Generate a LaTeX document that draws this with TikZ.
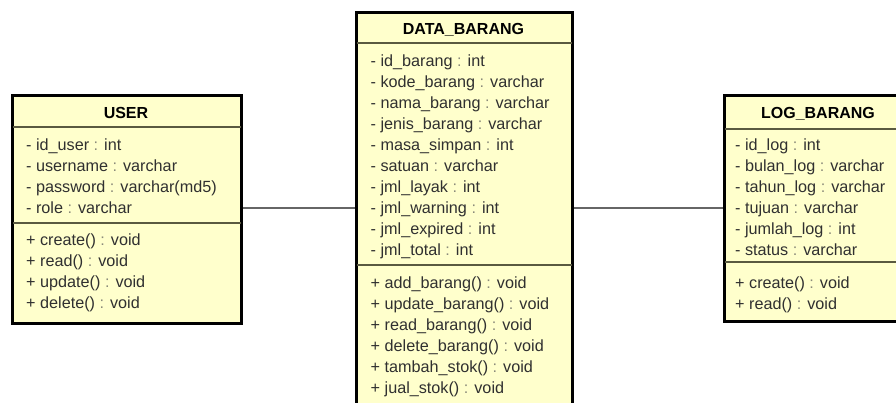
\documentclass[tikz,border=0pt]{standalone}
\usepackage{fontspec}
\setmainfont{Liberation Sans}
\definecolor{boxfill}{HTML}{FFFFCC}
\definecolor{sepcol}{HTML}{5A5A40}
\definecolor{txtcol}{HTML}{303030}
\definecolor{colgray}{HTML}{8A8A7A}
\definecolor{linkcol}{HTML}{666666}
\newcommand\cl{\textcolor{colgray}{:}}
\tikzset{
  classbox/.style={draw=black, line width=2pt, fill=boxfill, rectangle, inner sep=0pt, anchor=north west},
  sepline/.style={draw=sepcol, line width=1.2pt},
  rowtext/.style={anchor=base west, inner sep=0pt, text=txtcol, font=\fontsize{16.2}{19}\selectfont},
  headtext/.style={anchor=base, inner sep=0pt, text=black, font=\fontsize{16}{19}\selectfont\bfseries},
  link/.style={draw=linkcol, line width=1.1pt}
}
\begin{document}
\begin{tikzpicture}[x=1pt,y=-1pt]
\useasboundingbox (0,0) rectangle (896,403);
\fill[white] (0,0) rectangle (896,403);
\clip (0,0) rectangle (896,403);
\coordinate (cy) at (0,208);
% boxes
\node[classbox, minimum width=228pt, minimum height=227pt] (user) at (12,95) {};
\node[classbox, minimum width=215pt, minimum height=420pt] (barang) at (356,12) {};
\node[classbox, minimum width=190pt, minimum height=225pt] (log) at (724,95) {};
% connectors
\draw[link] (user.east |- cy) -- (barang.west |- cy);
\draw[link] (barang.east |- cy) -- (log.west |- cy);
% separators
\draw[sepline] (user.west |- 0,127) -- (user.east |- 0,127);
\draw[sepline] (user.west |- 0,223) -- (user.east |- 0,223);
\draw[sepline] (barang.west |- 0,43) -- (barang.east |- 0,43);
\draw[sepline] (barang.west |- 0,265) -- (barang.east |- 0,265);
\draw[sepline] (log.west |- 0,129) -- (log.east |- 0,129);
\draw[sepline] (log.west |- 0,262) -- (log.east |- 0,262);
% redraw borders on top
\draw[black, line width=2pt] (user.north west) rectangle (user.south east);
\draw[black, line width=2pt] (barang.north west) rectangle (barang.south east);
\draw[black, line width=2pt] (log.north west) rectangle (log.south east);
% headers
\node[headtext] (user-h) at (126,118.5) {USER};
\node[headtext] (barang-h) at (463.5,34.5) {DATA\_BARANG};
\node[headtext] (log-h) at (818,119) {LOG\_BARANG};
% USER rows
\foreach \t [count=\i from 0] in {{- id\_user \cl{} int},{- username \cl{} varchar},{- password \cl{} varchar(md5)},{- role \cl{} varchar}}
  \node[rowtext] (user-a\i) at (26,{150.5+21*\i}) {\t};
\foreach \t [count=\i from 0] in {{+ create() \cl{} void},{+ read() \cl{} void},{+ update() \cl{} void},{+ delete() \cl{} void}}
  \node[rowtext] (user-m\i) at (26,{245.5+21*\i}) {\t};
% DATA_BARANG rows
\foreach \t [count=\i from 0] in {{- id\_barang \cl{} int},{- kode\_barang \cl{} varchar},{- nama\_barang \cl{} varchar},{- jenis\_barang \cl{} varchar},{- masa\_simpan \cl{} int},{- satuan \cl{} varchar},{- jml\_layak \cl{} int},{- jml\_warning \cl{} int},{- jml\_expired \cl{} int},{- jml\_total \cl{} int}}
  \node[rowtext] (barang-a\i) at (370.5,{67+20.9*\i}) {\t};
\foreach \t [count=\i from 0] in {{+ add\_barang() \cl{} void},{+ update\_barang() \cl{} void},{+ read\_barang() \cl{} void},{+ delete\_barang() \cl{} void},{+ tambah\_stok() \cl{} void},{+ jual\_stok() \cl{} void}}
  \node[rowtext] (barang-m\i) at (370.5,{288.5+21*\i}) {\t};
% LOG_BARANG rows
\foreach \t [count=\i from 0] in {{- id\_log \cl{} int},{- bulan\_log \cl{} varchar},{- tahun\_log \cl{} varchar},{- tujuan \cl{} varchar},{- jumlah\_log \cl{} int},{- status \cl{} varchar}}
  \node[rowtext] (log-a\i) at (735,{150.5+21*\i}) {\t};
\foreach \t [count=\i from 0] in {{+ create() \cl{} void},{+ read() \cl{} void}}
  \node[rowtext] (log-m\i) at (735,{288.5+21*\i}) {\t};
\end{tikzpicture}
\end{document}
